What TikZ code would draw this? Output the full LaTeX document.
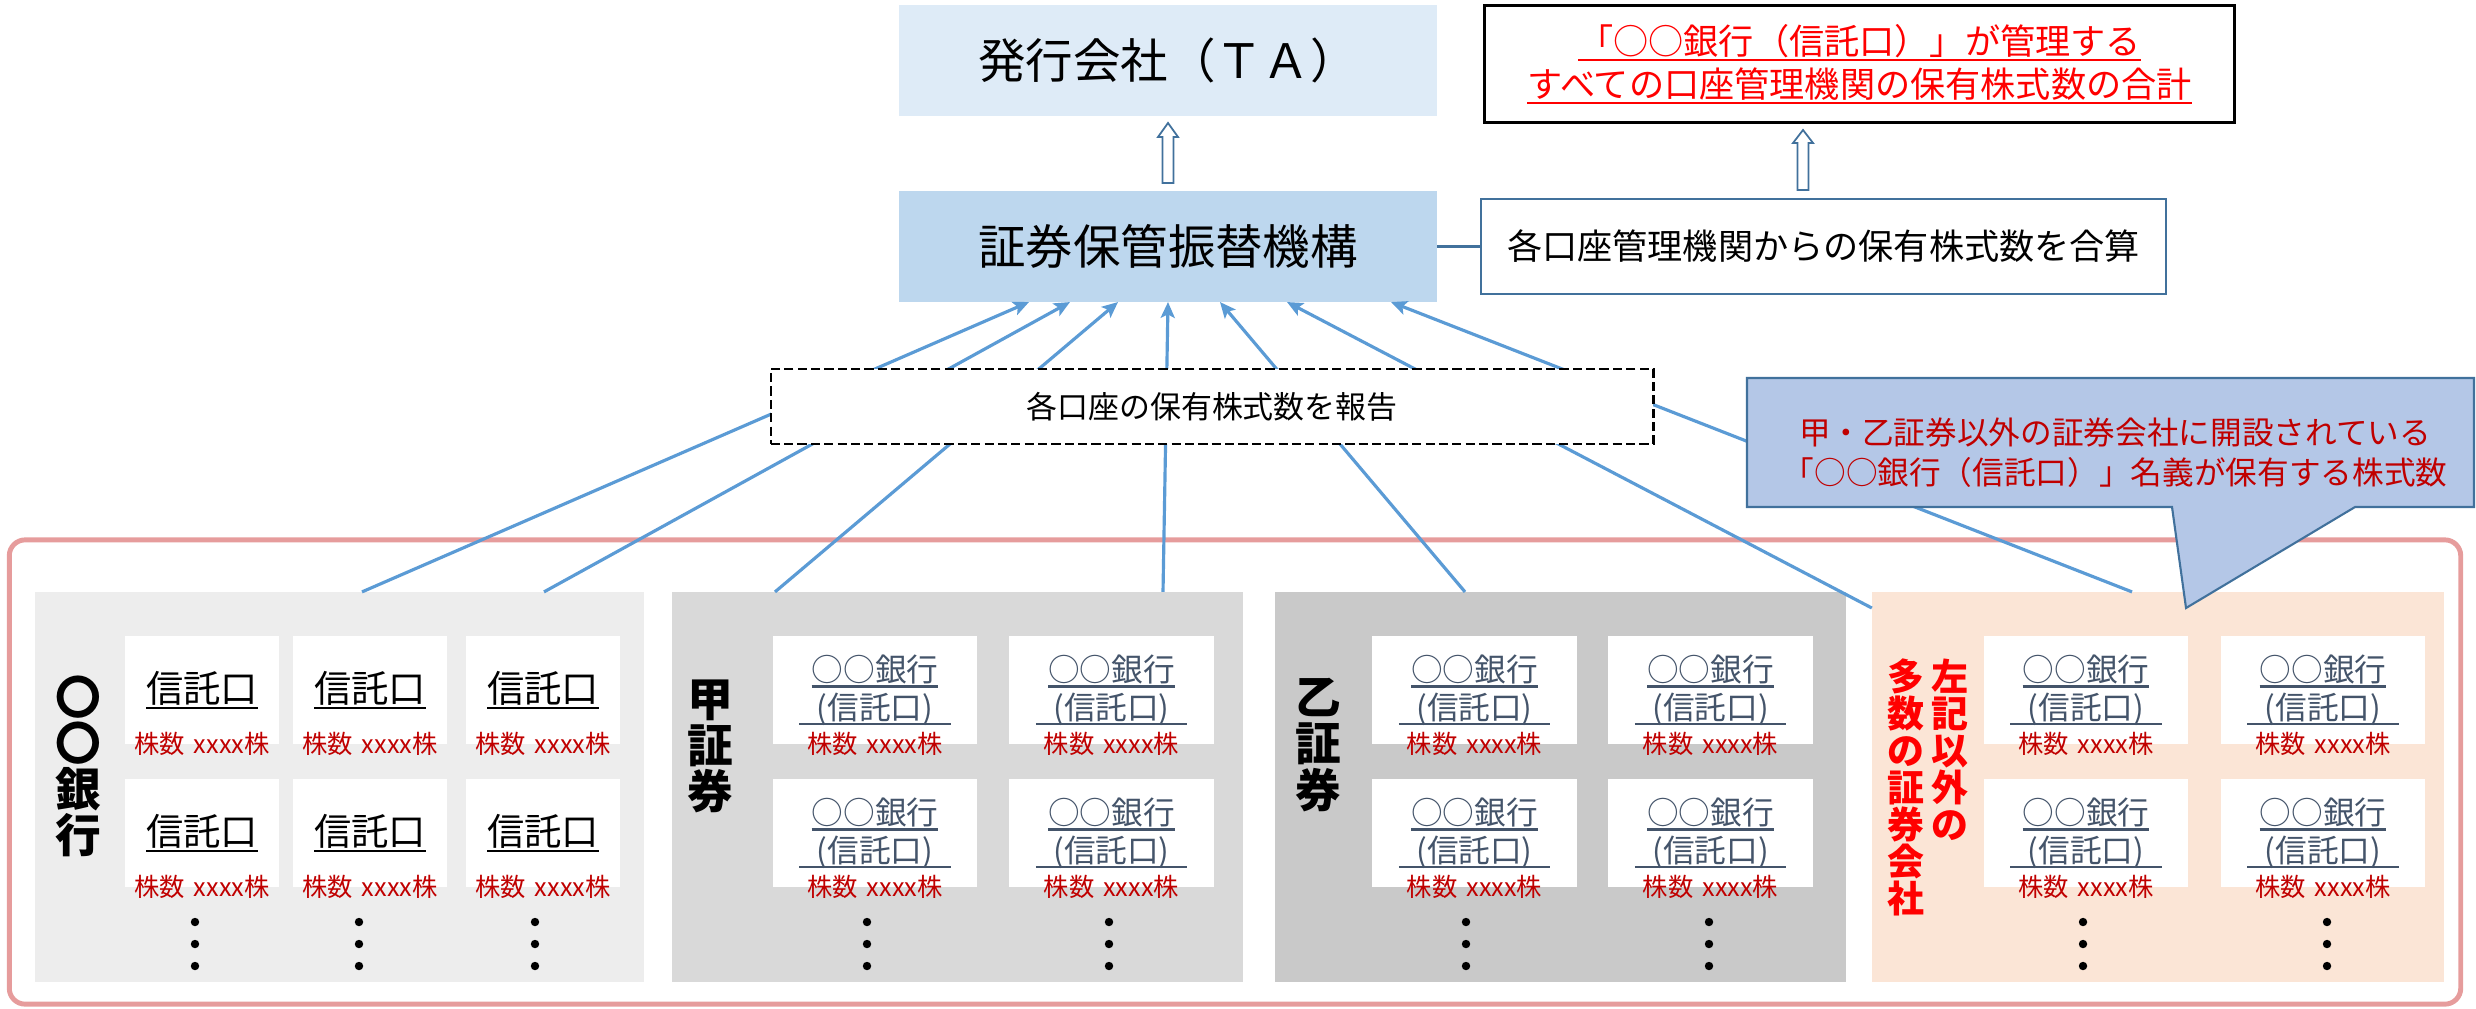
\documentclass[tikz,border=0pt]{standalone}
\usepackage{fontspec}
\setmainfont{Noto Sans CJK JP}
\usetikzlibrary{arrows.meta}

\definecolor{taBlue}{HTML}{DEEBF7}
\definecolor{jasBlue}{HTML}{BDD7EE}
\definecolor{lineBlue}{HTML}{5B9BD5}
\definecolor{edgeBlue}{HTML}{41719C}
\definecolor{noteBlue}{HTML}{B4C7E7}
\definecolor{frameRed}{HTML}{E69C9C}
\definecolor{grayA}{HTML}{EDEDED}
\definecolor{grayB}{HTML}{D9D9D9}
\definecolor{grayC}{HTML}{C9C9C9}
\definecolor{peachBox}{HTML}{FBE5D6}
\definecolor{slateText}{HTML}{44546A}
\definecolor{darkRed}{HTML}{C00000}
\definecolor{brightRed}{HTML}{FF0000}

\newcommand\ulbox[1]{\leavevmode\setbox0\hbox{#1}\rlap{\rule[-1.8pt]{\wd0}{0.6pt}}\box0}

\begin{document}
\begin{tikzpicture}[x=0.01cm, y=-0.01cm,
  box/.style={inner sep=0pt, outer sep=0pt},
  cellA/.style={box, fill=white, minimum width=1.54cm, minimum height=1.08cm, font=\fontsize{10.6}{12}\selectfont},
  cellB/.style={box, fill=white, minimum width=2.04cm, minimum height=1.08cm, align=center, text=slateText, font=\fontsize{9}{10.8}\selectfont},
  num/.style={box, text=darkRed, font=\fontsize{7.2}{8}\selectfont},
  vlabel/.style={box, align=center, font=\bfseries\fontsize{13}{13.1}\selectfont},
  vred/.style={box, align=center, text=brightRed, font=\bfseries\fontsize{10.5}{10.5}\selectfont},
  arr/.style={draw=lineBlue, line width=0.9pt, -{Stealth[length=4.5pt,width=4pt,inset=1pt]}},
  hollow/.style={draw=edgeBlue, fill=white, line width=0.5pt}]

\useasboundingbox (0,0) rectangle (2476,1008);

% outer frame
\node[box, draw=frameRed, line width=1.4pt, rounded corners=4.5pt, minimum width=24.5cm, minimum height=4.64cm] (frame) at (1235,772) {};

% account groups
\node[box, fill=grayA, minimum width=6.09cm, minimum height=3.9cm] (bank) at (339.5,787) {};
\node[box, fill=grayB, minimum width=5.71cm, minimum height=3.9cm] (kou) at (957.5,787) {};
\node[box, fill=grayC, minimum width=5.71cm, minimum height=3.9cm] (otsu) at (1560.5,787) {};
\node[box, fill=peachBox, minimum width=5.72cm, minimum height=3.9cm] (others) at (2158,787) {};

\node[vlabel] (bankname) at (78,766) {〇\\〇\\銀\\行};
\node[vlabel] (kouname) at (710,746) {甲\\証\\券};
\node[vlabel] (otsuname) at (1318,745) {乙\\証\\券};
\node[vred, anchor=north] (othername1) at (1950,659) {左\\記\\以\\外\\の};
\node[vred, anchor=north] (othername2) at (1906,659) {多\\数\\の\\証\\券\\会\\社};

% trust accounts
\foreach \cx [count=\i] in {202,370,543}
  \foreach \cy [count=\j] in {690,833} {
    \node[cellA] (a\i\j) at (\cx,\cy) {\ulbox{信託口}};
    \node[num] (na\i\j) at (a\i\j.south) {株数\hspace{0.35em}xxxx株};
  }
\foreach \cx [count=\i] in {875,1111.5,1474.5,1710.5,2086,2323}
  \foreach \cy [count=\j] in {690,833} {
    \node[cellB] (b\i\j) at (\cx,\cy) {\ulbox{○○銀行}\\\ulbox{\hspace{0.55em}(信託口)\hspace{0.55em}}};
    \node[num] (nb\i\j) at (b\i\j.south) {株数\hspace{0.35em}xxxx株};
  }
\foreach \x in {195,359,535,867,1109,1466,1709,2083,2327}
  \foreach \y in {922,944,966}
    \fill (\x,\y) circle (1.2pt);

% upper part
\node[box, fill=taBlue, minimum width=5.38cm, minimum height=1.11cm, font=\fontsize{13.5}{16}\selectfont] (ta) at (1168,60.5) {発行会社（ＴＡ）};
\node[box, fill=jasBlue, minimum width=5.38cm, minimum height=1.11cm, font=\fontsize{13.5}{16}\selectfont] (jasdec) at (1168,246.5) {証券保管振替機構};
\node[box, draw=black, line width=0.85pt, fill=white, minimum width=7.49cm, minimum height=1.16cm, align=center, text=brightRed, font=\fontsize{10}{12.2}\selectfont] (total) at (1859.5,64) {\ulbox{「○○銀行（信託口）」が管理する}\\\ulbox{すべての口座管理機関の保有株式数の合計}};
\node[box, draw=edgeBlue, line width=0.7pt, fill=white, minimum width=6.85cm, minimum height=0.95cm, font=\fontsize{10}{12}\selectfont] (sum) at (1823.5,246.5) {各口座管理機関からの保有株式数を合算};
\draw[edgeBlue, line width=0.7pt] (jasdec.east) -- (sum.west);

\draw[hollow] (jasdec.north) ++(-5.5,-8) -- ++(0,-46) -- ++(-4.5,0) -- ++(10,-14) -- ++(10,14) -- ++(-4.5,0) -- ++(0,46) -- cycle;
\draw[hollow] (sum.north -| 1803,0) ++(-5.5,-9) -- ++(0,-47) -- ++(-4.5,0) -- ++(10,-13) -- ++(10,13) -- ++(-4.5,0) -- ++(0,47) -- cycle;

% reports
\draw[arr] (bank.north -| 362,0) -- (jasdec.south -| 1029,0);
\draw[arr] (bank.north -| 544,0) -- (jasdec.south -| 1070,0);
\draw[arr] (kou.north -| 775,0) -- (jasdec.south -| 1118,0);
\draw[arr] (kou.north -| 1163,0) -- (jasdec.south -| 1168,0);
\draw[arr] (otsu.north -| 1465,0) -- (jasdec.south -| 1220,0);
\draw[arr] (others.west |- 0,608) -- (jasdec.south -| 1287,0);
\draw[arr] (others.north -| 2132,0) -- (jasdec.south -| 1391,0);

\node[box, draw=black, dash pattern=on 2.6pt off 1.2pt, line width=0.7pt, fill=white, minimum width=8.82cm, minimum height=0.75cm, font=\fontsize{8.8}{10}\selectfont] (report) at (1212,406.5) {各口座の保有株式数を報告};

% callout
\draw[draw=edgeBlue, fill=noteBlue, line width=0.6pt] (1747,378) -- (2474,378) -- (2474,507) -- (2355,507) -- (2186,608) -- (2172,507) -- (1747,507) -- cycle;
\node[box, align=center, text=darkRed, font=\fontsize{9}{11.4}\selectfont] (note) at (2115,453) {甲・乙証券以外の証券会社に開設されている\\「○○銀行（信託口）」名義が保有する株式数};
\end{tikzpicture}
\end{document}
